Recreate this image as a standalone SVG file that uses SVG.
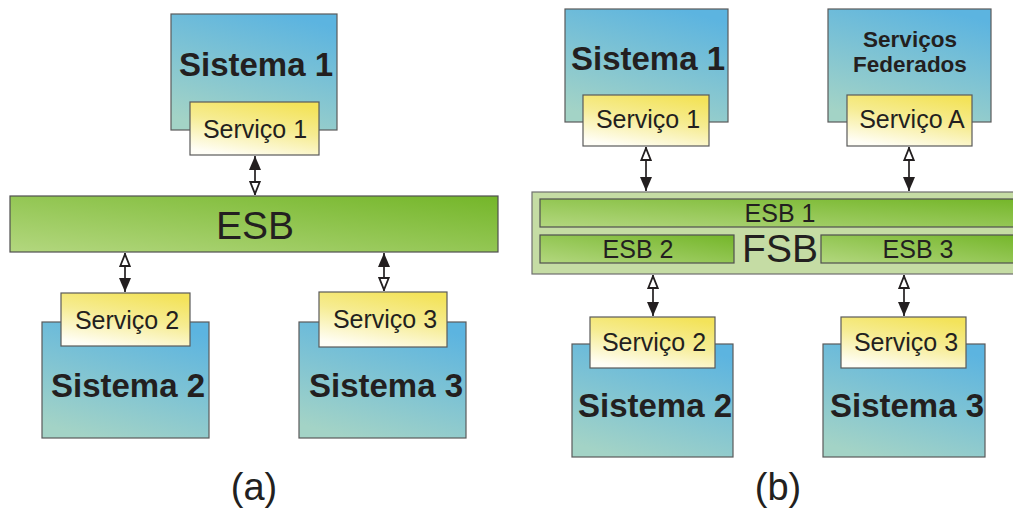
<svg xmlns="http://www.w3.org/2000/svg" width="1013" height="510" viewBox="0 0 1013 510">
  <defs>
    <linearGradient id="gSys" x1="0.3" y1="1" x2="0.7" y2="0">
      <stop offset="0" stop-color="#a3d3c6"/>
      <stop offset="1" stop-color="#5cb4e0"/>
    </linearGradient>
    <linearGradient id="gSvc" x1="0.3" y1="1" x2="0.7" y2="0">
      <stop offset="0" stop-color="#fffef6"/>
      <stop offset="0.55" stop-color="#f6ec92"/>
      <stop offset="1" stop-color="#f3e35a"/>
    </linearGradient>
    <linearGradient id="gBus" x1="0" y1="1" x2="1" y2="0">
      <stop offset="0" stop-color="#b3d77f"/>
      <stop offset="1" stop-color="#74b629"/>
    </linearGradient>
    <marker id="hSolid" viewBox="0 0 14 12" refX="14" refY="6" markerWidth="14" markerHeight="12" markerUnits="userSpaceOnUse" orient="auto-start-reverse">
      <path d="M0,0 L14,6 L0,12 Z" fill="#231f20"/>
    </marker>
    <marker id="hOpen" viewBox="0 0 14 12" refX="14" refY="6" markerWidth="14" markerHeight="12" markerUnits="userSpaceOnUse" orient="auto-start-reverse">
      <path d="M1,1.3 L12.8,6 L1,10.7 Z" fill="#ffffff" stroke="#231f20" stroke-width="1.8"/>
    </marker>
    <style>
      .sys { fill: url(#gSys); stroke: #5a5a5a; stroke-width: 1.2; }
      .svc { fill: url(#gSvc); stroke: #5a5a5a; stroke-width: 1.2; }
      .bus { fill: url(#gBus); stroke: #4f4f4f; stroke-width: 1.2; }
      .fsb { fill: #c5dca4; stroke: #6f6f6f; stroke-width: 1.2; }
      .t { font-family: "Liberation Sans", Arial, sans-serif; fill: #231f20; text-anchor: middle; }
      .big { font-size: 33px; font-weight: bold; }
      .fed { font-size: 22.5px; font-weight: bold; }
      .sv { font-size: 25px; }
      .esb { font-size: 39px; }
      .esbn { font-size: 25px; }
      .cap { font-size: 38px; }
      .link { stroke: #231f20; stroke-width: 1.7; fill: none; }
    </style>
  </defs>

  <!-- (a) single ESB -->
  <g id="a-sistema1">
    <rect class="sys" x="171" y="14" width="166" height="116"/>
    <text class="t big" x="256" y="76">Sistema 1</text>
  </g>
  <g id="a-servico1">
    <rect class="svc" x="190" y="102" width="129" height="53"/>
    <text class="t sv" x="255" y="138">Serviço 1</text>
  </g>
  <g id="a-esb">
    <rect class="bus" x="10" y="196" width="488" height="56"/>
    <text class="t esb" x="255" y="239">ESB</text>
  </g>
  <g id="a-sistema2">
    <rect class="sys" x="42" y="322" width="167" height="116"/>
    <text class="t big" x="128" y="397">Sistema 2</text>
  </g>
  <g id="a-servico2">
    <rect class="svc" x="61" y="293" width="129" height="53"/>
    <text class="t sv" x="127" y="329">Serviço 2</text>
  </g>
  <g id="a-sistema3">
    <rect class="sys" x="299" y="322" width="167" height="116"/>
    <text class="t big" x="386" y="397">Sistema 3</text>
  </g>
  <g id="a-servico3">
    <rect class="svc" x="319" y="292" width="128" height="55"/>
    <text class="t sv" x="385" y="328">Serviço 3</text>
  </g>

  <!-- (b) federated service bus -->
  <g id="b-sistema1">
    <rect class="sys" x="565" y="9" width="163" height="113"/>
    <text class="t big" x="648" y="70">Sistema 1</text>
  </g>
  <g id="b-servico1">
    <rect class="svc" x="583" y="95" width="126" height="51"/>
    <text class="t sv" x="648" y="128">Serviço 1</text>
  </g>
  <g id="b-federados">
    <rect class="sys" x="828" y="9" width="163" height="113"/>
    <text class="t fed" x="910" y="47">Serviços</text>
    <text class="t fed" x="910" y="72">Federados</text>
  </g>
  <g id="b-servicoA">
    <rect class="svc" x="847" y="95" width="125" height="51"/>
    <text class="t sv" x="912" y="128">Serviço A</text>
  </g>
  <g id="b-fsb">
    <rect class="fsb" x="532" y="192" width="490" height="82"/>
    <text class="t esb" x="780" y="262">FSB</text>
  </g>
  <g id="b-esb1">
    <rect class="bus" x="540" y="199" width="480" height="28"/>
    <text class="t esbn" x="780" y="222">ESB 1</text>
  </g>
  <g id="b-esb2">
    <rect class="bus" x="540" y="235" width="194" height="28"/>
    <text class="t esbn" x="638" y="258">ESB 2</text>
  </g>
  <g id="b-esb3">
    <rect class="bus" x="821" y="235" width="200" height="28"/>
    <text class="t esbn" x="918" y="258">ESB 3</text>
  </g>
  <g id="b-sistema2">
    <rect class="sys" x="572" y="344" width="161" height="113"/>
    <text class="t big" x="655" y="417">Sistema 2</text>
  </g>
  <g id="b-servico2">
    <rect class="svc" x="590" y="317" width="125" height="51"/>
    <text class="t sv" x="654" y="351">Serviço 2</text>
  </g>
  <g id="b-sistema3">
    <rect class="sys" x="823" y="344" width="162" height="113"/>
    <text class="t big" x="907" y="417">Sistema 3</text>
  </g>
  <g id="b-servico3">
    <rect class="svc" x="841" y="317" width="125" height="51"/>
    <text class="t sv" x="906" y="351">Serviço 3</text>
  </g>

  <!-- connectors -->
  <g id="connectors">
    <line class="link" x1="255" y1="156" x2="255" y2="195" marker-start="url(#hSolid)" marker-end="url(#hOpen)"/>
    <line class="link" x1="125" y1="253" x2="125" y2="292" marker-start="url(#hOpen)" marker-end="url(#hSolid)"/>
    <line class="link" x1="384" y1="253" x2="384" y2="291" marker-start="url(#hSolid)" marker-end="url(#hOpen)"/>
    <line class="link" x1="646" y1="147" x2="646" y2="191" marker-start="url(#hOpen)" marker-end="url(#hSolid)"/>
    <line class="link" x1="909" y1="147" x2="909" y2="191" marker-start="url(#hOpen)" marker-end="url(#hSolid)"/>
    <line class="link" x1="653" y1="275" x2="653" y2="316" marker-start="url(#hOpen)" marker-end="url(#hSolid)"/>
    <line class="link" x1="904" y1="275" x2="904" y2="316" marker-start="url(#hOpen)" marker-end="url(#hSolid)"/>
  </g>

  <g id="captions">
    <text class="t cap" x="254" y="500">(a)</text>
    <text class="t cap" x="778" y="500">(b)</text>
  </g>
</svg>
